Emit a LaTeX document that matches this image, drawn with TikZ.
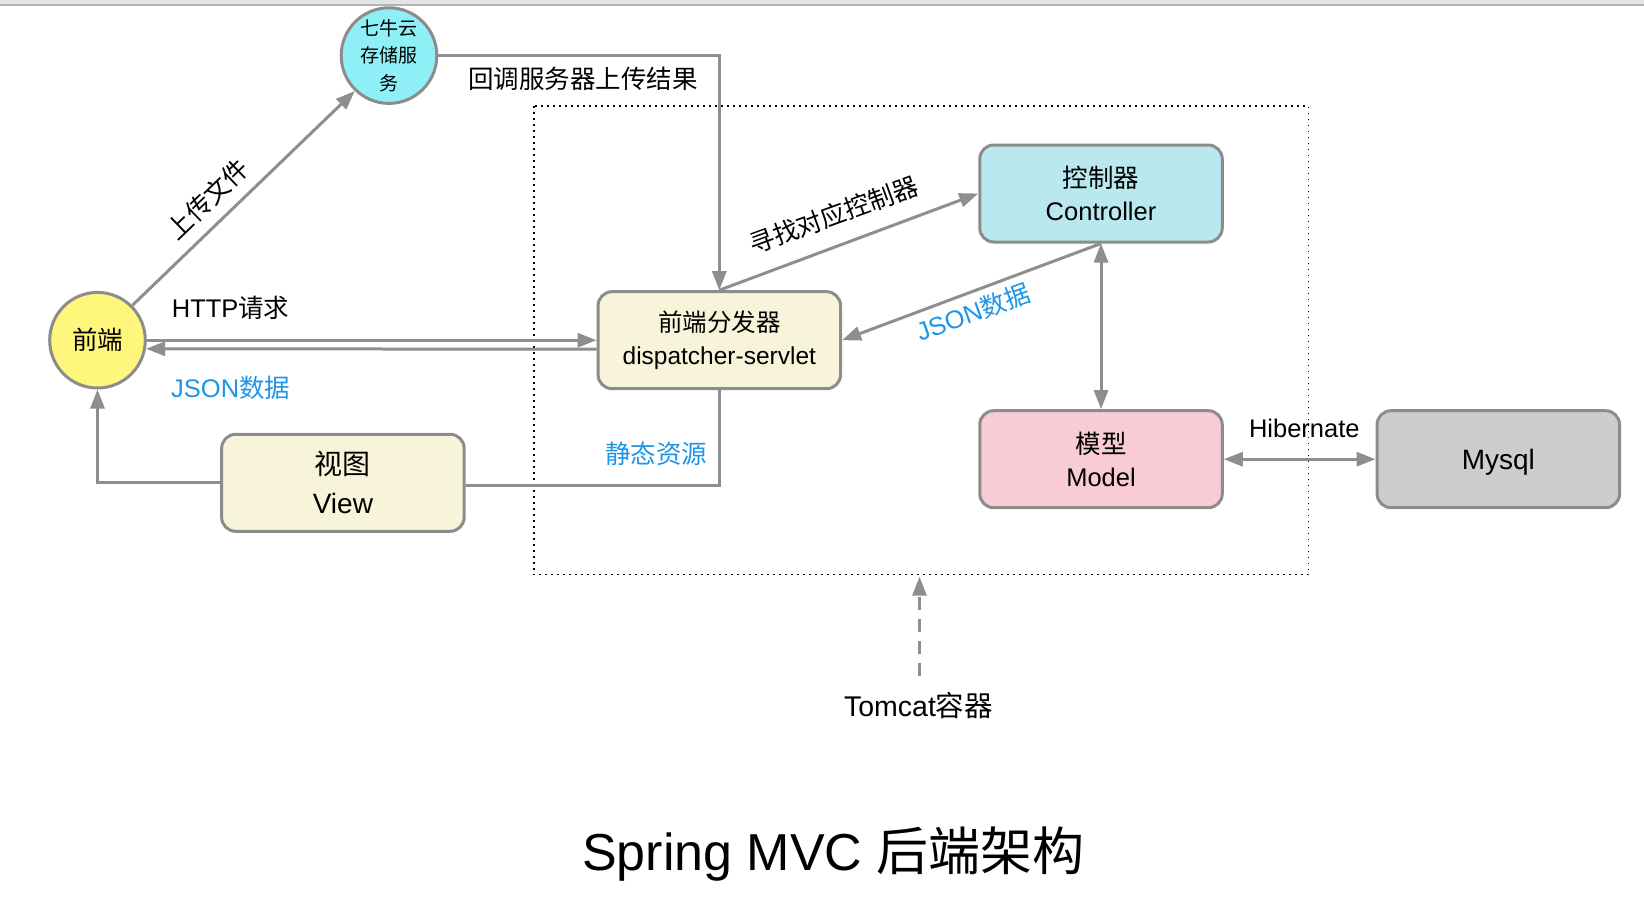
\documentclass[tikz,border=0pt]{standalone}
\usepackage{fontspec}
\setmainfont{Liberation Sans}
\newfontfamily\cjk{Noto Sans CJK SC}
\newcommand\zh[1]{{\cjk #1}}
\usetikzlibrary{arrows.meta,calc}
\definecolor{linegray}{HTML}{8E8E8E}
\definecolor{boxgray}{HTML}{8C8C8C}
\definecolor{qiniufill}{HTML}{8EEFF6}
\definecolor{frontfill}{HTML}{FFF77C}
\definecolor{creamfill}{HTML}{F8F4DA}
\definecolor{ctrlfill}{HTML}{B9E9EF}
\definecolor{modelfill}{HTML}{F9CBD4}
\definecolor{dbfill}{HTML}{CDCDCD}
\definecolor{bluetext}{HTML}{1E95E6}
\definecolor{topband}{HTML}{E4E4E4}
\definecolor{topline}{HTML}{B4B4B4}
\tikzset{
  txt/.style={font=\fontsize{25.5}{33.5}\selectfont, align=center, inner sep=0pt},
  bluelbl/.style={txt, text=bluetext},
  boxnode/.style={txt, draw=boxgray, line width=3pt, rounded corners=14pt,
    minimum width=242.5pt, minimum height=97pt},
  circnode/.style={txt, circle, draw=boxgray, line width=3pt, minimum size=95.6pt},
  conn/.style={draw=linegray, line width=3pt, -{Triangle[length=19pt,width=14pt]}},
  bconn/.style={draw=linegray, line width=3pt, {Triangle[length=19pt,width=14pt]}-{Triangle[length=19pt,width=14pt]}},
  plain/.style={draw=linegray, line width=3pt},
}
\begin{document}
\begin{tikzpicture}[x=1pt,y=-1pt]
\useasboundingbox (0,0) rectangle (1644,906);
\fill[topband] (0,0) rectangle (1644,4);
\draw[topline, line width=2pt] (0,5) -- (1644,5);

% container
\draw[black, line width=1.6pt, dash pattern=on 1.6pt off 4.4pt] (533.7,105.9) rectangle (1308.5,574.6);

% nodes
\node[circnode, fill=qiniufill, font=\fontsize{19}{27.3}\selectfont] (qn) at (389,55.6) {\zh{七牛云}\\\zh{存储服}\\\zh{务}};
\node[circnode, fill=frontfill] (fe) at (97.5,340.2) {\zh{前端}};
\node[boxnode, fill=creamfill, font=\fontsize{24.5}{33.5}\selectfont] (disp) at (719.3,340.2) {\raisebox{-4pt}{\zh{前端分发器}}\\\raisebox{-4pt}{dispatcher-servlet}};
\node[boxnode, fill=ctrlfill] (ctrl) at (1101,193.5) {\zh{控制器}\\Controller};
\node[boxnode, fill=modelfill] (model) at (1101,459.2) {\raisebox{-2pt}{\zh{模型}}\\\raisebox{-2pt}{Model}};
\node[boxnode, fill=dbfill, font=\fontsize{28}{33.5}\selectfont, text depth=0pt] (db) at (1498.3,459.2) {Mysql};
\node[boxnode, fill=creamfill, font=\fontsize{28}{39}\selectfont] (view) at (342.9,482.8) {\zh{视图}\\View};

% connectors
\draw[conn] (fe.45) -- (qn.226);
\draw[conn] (qn.east) -| (disp.north);
\draw[conn] (fe.east) -- (disp.west);
\draw[conn] ([yshift=-9pt]disp.west) -- (fe.-10.5);
\draw[conn] (disp.north) -- (ctrl.west);
\draw[conn] (ctrl.south) -- (disp.east);
\draw[bconn] (ctrl.south) -- (model.north);
\draw[bconn] (model.east) -- (db.west);
\draw[plain] (disp.south) |- ([yshift=-3pt]view.east);
\draw[conn] (view.west) -| (fe.south);

% Tomcat
\node[txt, font=\fontsize{28.5}{32}\selectfont] (tomcat) at (918.5,705.6) {Tomcat\zh{容器}};
\coordinate (tomtop) at (919.5,576.7);
\coordinate (tombot) at (919.5,676.3);
\draw[draw=linegray, line width=3pt, dash pattern=on 13pt off 9pt, -{Triangle[length=19pt,width=14pt]}] (tombot) -- (tomtop);

% labels
\node[txt, rotate=44] (l1) at (207.6,199.2) {\zh{上传文件}};
\node[txt] (l2) at (583,78.6) {\zh{回调服务器上传结果}};
\node[txt] (l3) at (230.7,308.3) {HTTP\zh{请求}};
\node[bluelbl] (l4) at (230.7,388) {JSON\zh{数据}};
\node[txt, rotate=20] (l5) at (833.6,215) {\zh{寻找对应控制器}};
\node[bluelbl, rotate=20] (l6) at (973,312.5) {JSON\zh{数据}};
\node[bluelbl] (l7) at (656.4,454) {\zh{静态资源}};
\node[txt] (l8) at (1304.3,428.8) {Hibernate};

% title
\node[txt, font=\fontsize{52}{60}\selectfont] (title) at (833.6,854.5) {Spring MVC \zh{后端架构}};
\end{tikzpicture}
\end{document}
